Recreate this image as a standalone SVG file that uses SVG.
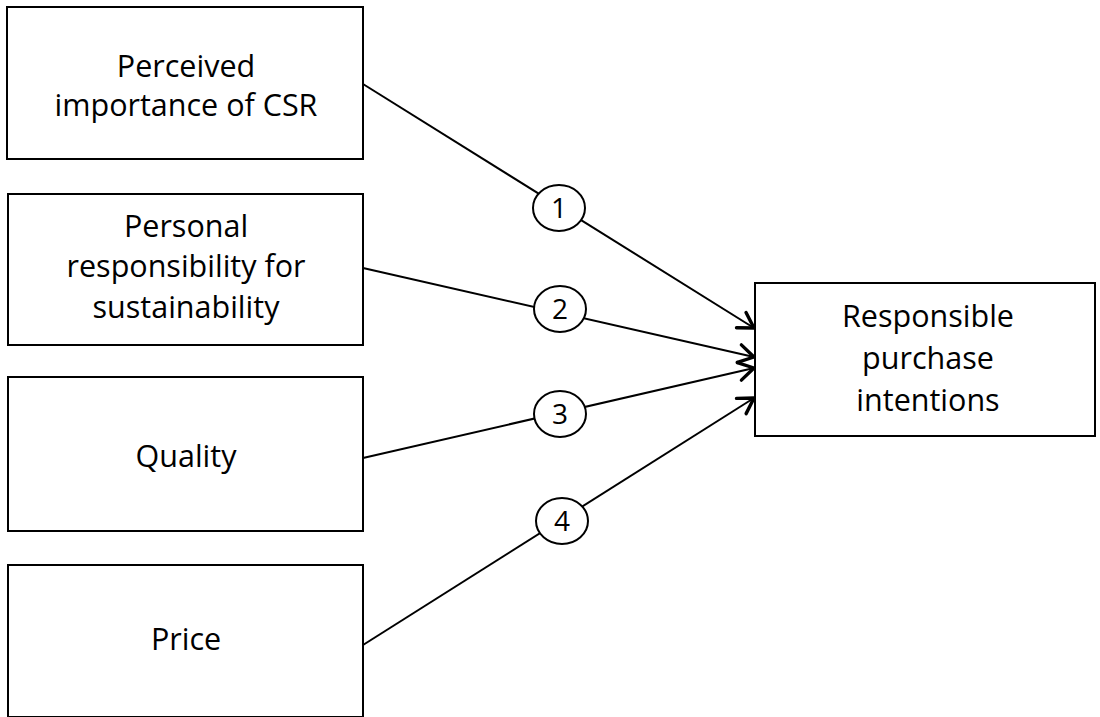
<svg xmlns="http://www.w3.org/2000/svg" width="1100" height="717" viewBox="0 0 1100 717">
<style>
.box{fill:#fff;stroke:#000;stroke-width:2}
.lbl{font-family:"Open Sans","Liberation Sans",sans-serif;font-size:30.5px;fill:#000;text-anchor:middle}
.num{font-family:"Open Sans","Liberation Sans",sans-serif;font-size:28px;fill:#000;text-anchor:middle}
.edge{stroke:#000;stroke-width:2;fill:none}
.badge{fill:#fff;stroke:#000;stroke-width:2}
</style>
<defs>
<marker id="arr" viewBox="0 0 24 24" refX="20" refY="12" markerWidth="24" markerHeight="24" markerUnits="userSpaceOnUse" orient="auto">
<path d="M5,3 L20,12 L5,21" fill="none" stroke="#000" stroke-width="3.4" stroke-linecap="round" stroke-linejoin="round"/>
</marker>
</defs>
<g id="connectors">
<line class="edge" x1="363" y1="84" x2="754" y2="328" marker-end="url(#arr)"/>
<line class="edge" x1="363" y1="268" x2="754" y2="357" marker-end="url(#arr)"/>
<line class="edge" x1="363" y1="458" x2="754" y2="368" marker-end="url(#arr)"/>
<line class="edge" x1="363" y1="645" x2="754" y2="398" marker-end="url(#arr)"/>
<g id="badge1"><ellipse class="badge" cx="559" cy="208" rx="26" ry="23"/><text class="num" x="559" y="218">1</text></g>
<g id="badge2"><ellipse class="badge" cx="560" cy="309" rx="26" ry="23"/><text class="num" x="560" y="319">2</text></g>
<g id="badge3"><ellipse class="badge" cx="560" cy="414" rx="26" ry="23"/><text class="num" x="560" y="424">3</text></g>
<g id="badge4"><ellipse class="badge" cx="562" cy="521" rx="26" ry="23"/><text class="num" x="562" y="531">4</text></g>
</g>
<g id="node-csr">
<rect class="box" x="7" y="7" width="356" height="152"/>
<text class="lbl" x="186" y="77">Perceived</text>
<text class="lbl" x="186" y="116">importance of CSR</text>
</g>
<g id="node-responsibility">
<rect class="box" x="8" y="194" width="355" height="151"/>
<text class="lbl" x="186" y="237">Personal</text>
<text class="lbl" x="186" y="277">responsibility for</text>
<text class="lbl" x="186" y="318">sustainability</text>
</g>
<g id="node-quality">
<rect class="box" x="8" y="377" width="355" height="154"/>
<text class="lbl" x="186" y="467">Quality</text>
</g>
<g id="node-price">
<rect class="box" x="8" y="565" width="355" height="152"/>
<text class="lbl" x="186" y="650">Price</text>
</g>
<g id="node-intentions">
<rect class="box" x="755" y="283" width="340" height="153"/>
<text class="lbl" x="928" y="327">Responsible</text>
<text class="lbl" x="928" y="369">purchase</text>
<text class="lbl" x="928" y="411">intentions</text>
</g>
</svg>
